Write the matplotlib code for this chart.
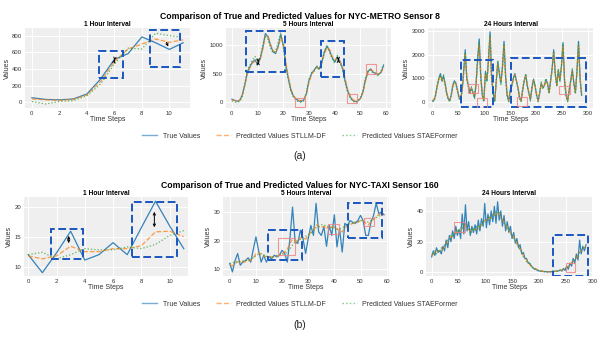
import numpy as np
import matplotlib
matplotlib.use("Agg")
import matplotlib.pyplot as plt
import matplotlib.patches as patches
from matplotlib.lines import Line2D

plt.rcParams["font.family"] = ["Liberation Sans", "DejaVu Sans"]

# ── Données : NYC-METRO capteur 8 ────────────────────────────────────────────
metro_1h_true  = [55, 35, 30, 40, 100, 280, 515, 585, 785, 715, 635, 715]
metro_1h_stllm = [40, 30, 25, 35, 90, 250, 490, 640, 700, 760, 720, 750]
metro_1h_stae  = [10, -20, 10, 20, 80, 220, 460, 650, 640, 830, 800, 780]

metro_5h_true = [50, 30, 15, 25, 120, 300, 520, 620, 700, 740,
                 650, 760, 950, 1200, 1150, 1000, 880, 850, 980, 1180,
                 1000, 650, 400, 200, 100, 50, 20, 10, 40, 150,
                 380, 500, 560, 620, 580, 700, 880, 980, 900, 780,
                 700, 790, 720, 600, 380, 200, 90, 30, 5, 20,
                 60, 180, 400, 540, 580, 520, 500, 480, 520, 640]
metro_5h_stllm = [40, 25, 20, 30, 110, 280, 480, 600, 680, 720,
                  690, 740, 920, 1150, 1170, 1020, 900, 870, 950, 1130,
                  1050, 700, 430, 230, 110, 55, 30, 25, 50, 140,
                  340, 480, 550, 600, 600, 680, 850, 950, 920, 800,
                  740, 760, 720, 620, 420, 230, 110, 45, 15, 25,
                  60, 170, 370, 520, 570, 540, 510, 490, 510, 610]
metro_5h_stae = [20, 0, -10, 10, 90, 320, 550, 650, 740, 800,
                 700, 780, 1000, 1150, 1100, 950, 860, 900, 1050, 1220,
                 950, 600, 380, 180, 80, 30, 0, -10, 20, 170,
                 400, 520, 540, 640, 560, 720, 900, 1000, 870, 760,
                 680, 820, 680, 580, 350, 170, 70, 10, -10, 10,
                 80, 200, 420, 560, 560, 500, 470, 460, 540, 660]

# 24 h : un point sur trois (pas de 3)
metro_24h_true = [50, 100, 350, 700, 1000, 1200, 900, 1100, 800, 400,
                  150, 60, 300, 700, 900, 800, 500, 200, 100, 500,
                  1300, 2200, 1000, 700, 400, 600, 400, 200, 800, 1800,
                  2650, 1100, 300, 50, 1300, 900, 1800, 2950, 1000, 400,
                  50, 900, 1700, 1200, 800, 1500, 2550, 1100, 300, 50,
                  500, 700, 1000, 1200, 900, 600, 200, 50, 500, 900,
                  1150, 700, 400, 100, 600, 950, 700, 300, 50, 400,
                  800, 600, 700, 950, 800, 400, 900, 1400, 2200, 1200,
                  700, 1350, 900, 1500, 2500, 900, 300, 50, 500, 900,
                  1350, 800, 400, 1300, 2550, 1000, 300]
metro_24h_stllm = [80, 150, 380, 680, 950, 1100, 950, 1000, 750, 420,
                   180, 100, 320, 650, 850, 780, 520, 250, 150, 480,
                   1200, 2000, 1100, 700, 450, 580, 420, 250, 750, 1700,
                   2400, 1200, 350, 100, 1200, 950, 1700, 2700, 1100, 450,
                   100, 850, 1600, 1250, 850, 1400, 2350, 1150, 350, 80,
                   480, 700, 950, 1150, 900, 620, 250, 80, 480, 880,
                   1100, 720, 420, 150, 580, 900, 720, 330, 80, 400,
                   780, 620, 700, 900, 780, 420, 850, 1350, 2050, 1250,
                   720, 1300, 950, 1450, 2350, 950, 350, 80, 480, 880,
                   1300, 820, 430, 1250, 2400, 1050, 350]
metro_24h_stae = [20, 60, 300, 720, 1050, 1150, 850, 1150, 700, 350,
                  100, 20, 350, 750, 850, 750, 450, 150, 50, 550,
                  1350, 2100, 950, 650, 380, 650, 350, 150, 850, 1900,
                  2550, 1000, 250, 20, 1250, 850, 1900, 2850, 950, 350,
                  20, 950, 1750, 1150, 750, 1550, 2450, 1000, 250, 20,
                  550, 650, 1050, 1150, 850, 550, 150, 20, 550, 950,
                  1200, 650, 350, 50, 650, 1000, 650, 250, 20, 450,
                  850, 550, 750, 1000, 750, 350, 950, 1450, 2150, 1150,
                  650, 1400, 850, 1550, 2450, 850, 250, 20, 550, 950,
                  1400, 750, 350, 1350, 2500, 950, 250]

# ── Données : NYC-TAXI capteur 160 ───────────────────────────────────────────
taxi_1h_true  = [12, 9, 12.3, 15.9, 11.1, 12, 14, 12, 16.5, 20.9, 16.8, 13]
taxi_1h_stllm = [11.8, 11.3, 11.8, 13.4, 12.5, 12.5, 13.0, 13.0, 13.5, 15.8, 15.9, 15.0]
taxi_1h_stae  = [12.0, 12.4, 11.3, 12.0, 13.0, 12.8, 12.8, 13.3, 13.0, 13.7, 15.2, 16.0]

taxi_5h_true = [12, 9.1, 13, 15.5, 11.4, 12.5, 13, 14, 12.5, 17,
                21.3, 16.6, 12.5, 14.9, 12.5, 14.3, 13.7, 14.9, 14.3, 14.9,
                16.6, 15.5, 12.5, 20.7, 31.7, 19.5, 19, 23.6, 20.7, 15.5,
                20.7, 25.3, 21.8, 33, 23, 21.8, 24.8, 18, 25.3, 21.8,
                29, 17.8, 24.1, 16, 26, 25.3, 27, 26.4, 26, 27,
                28.8, 27, 21.8, 21.8, 26.4, 28.8, 33, 29.4, 30, 29]
taxi_5h_stllm = [11.5, 11.2, 12, 12.5, 12.8, 12.5, 12.6, 13, 13.2, 14,
                 15.5, 15.8, 15, 14.6, 14.4, 14.5, 14.3, 14.5, 14.6, 14.8,
                 15.5, 16, 17, 19, 20.5, 20, 19.5, 21, 21, 20.5,
                 21.5, 23, 23.5, 25.5, 25, 24.5, 25, 24, 25.5, 24.5,
                 25, 24, 23.5, 23, 24.5, 25, 25.5, 26, 26, 26.5,
                 27, 27, 26, 25.5, 26.5, 27.5, 28.5, 29, 29.5, 29]
taxi_5h_stae = [12, 12.3, 12.5, 12.8, 12.6, 13, 13, 13.3, 13.5, 14,
                14.8, 15.3, 15.5, 15, 14.6, 14.3, 14.2, 14.5, 14.8, 15,
                15.2, 15.5, 16, 17, 18.5, 19.5, 20, 20.5, 21, 21.5,
                22, 22.5, 23.5, 24.5, 25, 25.5, 25.5, 25, 25, 24.5,
                24.5, 24, 24, 24.5, 25, 25.5, 26, 26, 26.5, 26.5,
                27, 27, 26.5, 26.5, 27, 27.5, 28, 28.5, 29, 29.5]

taxi_24h_true = [10, 14, 11, 16, 13, 14, 12, 17, 14, 21,
                 16, 24, 20, 27, 22, 30, 24, 28, 22, 38,
                 25, 44, 27, 33, 24, 30, 26, 31, 25, 34,
                 27, 35, 30, 45, 29, 38, 31, 40, 33, 43,
                 32, 46, 34, 40, 30, 37, 27, 33, 26, 30,
                 22, 26, 19, 22, 16, 18, 12, 13, 9, 9,
                 6, 6, 4, 3, 2, 2, 1, 1, 0.5, 0.8,
                 0.3, 0.5, 0.2, 0.4, 0.3, 0.5, 0.4, 0.8, 0.5, 1.0,
                 1.5, 0.8, 2.5, 1.2, 4, 2, 6, 4, 9, 6,
                 12, 8, 21, 12, 17, 14, 18]
taxi_24h_stllm = [11, 12, 13, 13, 14, 14, 15, 15, 17, 19,
                  20, 22, 23, 24, 25, 26, 26, 27, 27, 29,
                  30, 31, 29, 28, 27, 27, 28, 28, 28, 29,
                  30, 31, 32, 34, 34, 35, 35, 36, 37, 38,
                  38, 39, 38, 36, 34, 33, 31, 29, 28, 26,
                  24, 23, 21, 19, 17, 15, 13, 11, 9.5, 8,
                  6.5, 5, 4, 3, 2.5, 2, 1.5, 1, 0.8, 0.6,
                  0.5, 0.4, 0.4, 0.3, 0.4, 0.4, 0.5, 0.6, 0.7, 0.9,
                  1.2, 1.5, 2, 2.5, 3.2, 4, 5, 6, 7, 8,
                  9.5, 11, 13, 14, 15, 16, 17]
taxi_24h_stae = [12, 11, 14, 12, 15, 13, 16, 15, 18, 18,
                 21, 21, 24, 23, 26, 25, 28, 26, 29, 28,
                 32, 30, 30, 27, 28, 26, 29, 27, 30, 28,
                 31, 30, 33, 33, 35, 34, 36, 35, 38, 37,
                 40, 38, 39, 35, 35, 32, 32, 28, 29, 25,
                 25, 22, 22, 18, 18, 14, 14, 10, 10, 7,
                 7, 4.5, 4.5, 2.8, 2.8, 1.6, 1.6, 0.9, 0.9, 0.5,
                 0.6, 0.3, 0.5, 0.2, 0.5, 0.3, 0.7, 0.5, 1.0, 0.8,
                 1.6, 1.3, 2.4, 2.2, 3.6, 3.6, 5.4, 5.6, 7.6, 7.8,
                 10.2, 10.5, 13.5, 13.2, 15.8, 15.5, 17.5]

# ── Mise en page ─────────────────────────────────────────────────────────────
C_TRUE, C_STLLM, C_STAE = "#1f77b4", "#ff7f0e", "#2ca02c"
C_BOX, C_PINK = "#1a56c0", "#f08080"
W, H = 600, 338


def px_axes(fig, x0, y0, x1, y1):
    return fig.add_axes([x0 / W, 1 - y1 / H, (x1 - x0) / W, (y1 - y0) / H])


def tracer(ax, x, vrai, stllm, stae, titre, xlim, ylim, xticks, yticks):
    ax.set_facecolor("#efefef")
    ax.grid(True, color="white", linewidth=0.7)
    ax.set_axisbelow(True)
    for s in ax.spines.values():
        s.set_visible(False)
    ax.plot(x, vrai, color=C_TRUE, lw=0.9, alpha=0.9)
    ax.plot(x, stllm, color=C_STLLM, lw=0.9, ls="--", alpha=0.75)
    ax.plot(x, stae, color=C_STAE, lw=0.9, ls=":", alpha=0.75)
    ax.set_title(titre, fontsize=4.8, fontweight="bold", pad=1.5)
    ax.set_xlim(*xlim)
    ax.set_ylim(*ylim)
    ax.set_xticks(xticks)
    ax.set_yticks(yticks)
    ax.tick_params(length=0, labelsize=4.3, pad=2, colors="#333333")
    ax.set_xlabel("Time Steps", fontsize=5, labelpad=0.5, color="#333333")
    ax.set_ylabel("Values", fontsize=5, labelpad=1, color="#333333")


def boite(ax, x0, x1, y0, y1, couleur=C_BOX, lw=1.4, ls=(0, (4, 1.8)), alpha=1.0):
    ax.add_patch(patches.Rectangle((x0, y0), x1 - x0, y1 - y0, fill=False,
                                   edgecolor=couleur, lw=lw, ls=ls, alpha=alpha,
                                   zorder=5))


def rose(ax, x0, x1, y0, y1):
    boite(ax, x0, x1, y0, y1, couleur=C_PINK, lw=0.8, ls="-", alpha=0.8)


def fleche(ax, x0, y0, x1, y1, style="->"):
    ax.annotate("", xy=(x1, y1), xytext=(x0, y0),
                arrowprops=dict(arrowstyle=style, color="black", lw=0.7,
                                mutation_scale=4), zorder=6)


fig = plt.figure(figsize=(6, 3.38), dpi=100)

x1h = np.arange(12)
x5h = np.arange(60)
x24m = np.arange(len(metro_24h_true)) * 3
x24t = np.arange(len(taxi_24h_true)) * 3

# (a) NYC-METRO
ax = px_axes(fig, 25, 28, 190, 108)
tracer(ax, x1h, metro_1h_true, metro_1h_stllm, metro_1h_stae, "1 Hour Interval",
       (-0.5, 11.5), (-68, 892), range(0, 11, 2), range(0, 801, 200))
boite(ax, 4.85, 6.6, 290, 620)
boite(ax, 8.6, 10.8, 430, 870)
fleche(ax, 5.95, 470, 6.05, 545, "<->")
fleche(ax, 9.7, 750, 10.0, 640)

ax = px_axes(fig, 226, 28, 391, 108)
tracer(ax, x5h, metro_5h_true, metro_5h_stllm, metro_5h_stae, "5 Hours Interval",
       (-2.3, 61.9), (-105, 1298), range(0, 61, 10), [0, 500, 1000])
boite(ax, 5.5, 20.7, 520, 1250)
boite(ax, 34.7, 43.6, 430, 1075)
rose(ax, 24.5, 28.4, -80, 65)
rose(ax, 44.9, 48.6, -12, 135)
rose(ax, 52.2, 56.0, 500, 660)
fleche(ax, 10.2, 760, 10.2, 650, "<->")
fleche(ax, 41.4, 800, 41.4, 680, "<->")

ax = px_axes(fig, 428, 28, 593, 108)
tracer(ax, x24m, metro_24h_true, metro_24h_stllm, metro_24h_stae, "24 Hours Interval",
       (-9, 310), (-240, 3110), range(0, 301, 50), range(0, 3001, 1000))
boite(ax, 55, 117, -200, 1770)
boite(ax, 151, 296, -200, 1840)
rose(ax, 69, 88, 400, 770)
rose(ax, 86, 106, -240, 170)
rose(ax, 164, 182, -150, 210)
rose(ax, 245, 266, 350, 700)

# (b) NYC-TAXI
ax = px_axes(fig, 24, 197, 188, 276)
tracer(ax, x1h, taxi_1h_true, taxi_1h_stllm, taxi_1h_stae, "1 Hour Interval",
       (-0.3, 11.3), (8.45, 21.6), range(0, 11, 2), [10, 15, 20])
boite(ax, 1.62, 3.87, 11.2, 16.3)
boite(ax, 7.35, 10.5, 11.55, 20.8)
fleche(ax, 2.86, 15.6, 2.86, 13.45, "<->")
fleche(ax, 8.92, 19.6, 8.92, 16.1, "<->")

ax = px_axes(fig, 223, 197, 389, 276)
tracer(ax, x5h, taxi_5h_true, taxi_5h_stllm, taxi_5h_stae, "5 Hours Interval",
       (-2.6, 60.9), (7.66, 35.2), range(0, 61, 10), [10, 20, 30])
boite(ax, 14.8, 27.5, 13.3, 23.7)
boite(ax, 45.4, 58.1, 20.8, 33.0)
rose(ax, 18.6, 25.0, 15.0, 20.8)
rose(ax, 37.7, 41.9, 22.3, 25.7)
rose(ax, 51.5, 55.2, 25.1, 28.0)

ax = px_axes(fig, 426, 197, 593, 276)
tracer(ax, x24t, taxi_24h_true, taxi_24h_stllm, taxi_24h_stae, "24 Hours Interval",
       (-10.6, 301), (-2.4, 49.1), range(0, 301, 50), [0, 20, 40])
boite(ax, 227, 292, -2.2, 24.3)
rose(ax, 42, 62, 26.5, 33)
rose(ax, 250, 268, 0.4, 5.9)

# Titres, légendes, étiquettes
fig.text(0.5, 1 - 16.5 / H, "Comparison of True and Predicted Values for NYC-METRO Sensor 8",
         ha="center", va="center", fontsize=6.2, fontweight="bold")
fig.text(0.5, 1 - 185 / H, "Comparison of True and Predicted Values for NYC-TAXI Sensor 160",
         ha="center", va="center", fontsize=6.2, fontweight="bold")

poignees = [Line2D([], [], color=C_TRUE, lw=1, alpha=0.6),
            Line2D([], [], color=C_STLLM, lw=1, ls="--", alpha=0.6),
            Line2D([], [], color=C_STAE, lw=1, ls=":", alpha=0.6)]
noms = ["True Values", "Predicted Values STLLM-DF", "Predicted Values STAEFormer"]
for y in (136, 304):
    fig.legend(poignees, noms, loc="center", bbox_to_anchor=(0.5, 1 - y / H),
               ncol=3, frameon=False, fontsize=5, columnspacing=2.2,
               handlelength=2.2, handletextpad=0.8, labelcolor="#333333")

fig.text(0.5, 1 - 156 / H, "(a)", ha="center", va="center", fontsize=7.5, color="#222222")
fig.text(0.5, 1 - 325 / H, "(b)", ha="center", va="center", fontsize=7.5, color="#222222")

fig.savefig("out.png", dpi=100)
